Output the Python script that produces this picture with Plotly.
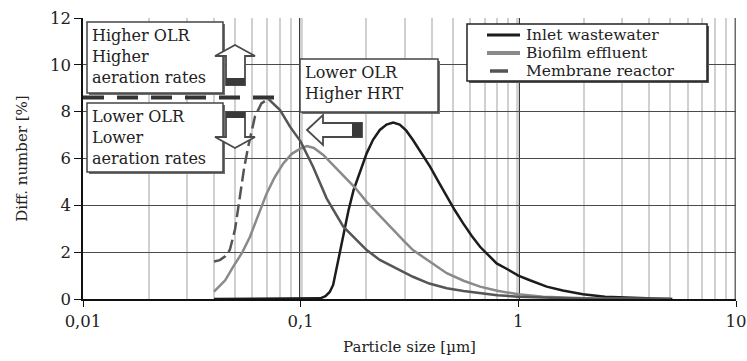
import plotly.graph_objects as go

# ---- data ----
inlet_x = [0.04, 0.06, 0.08, 0.1, 0.115, 0.123, 0.13, 0.136, 0.141, 0.149, 0.157, 0.166, 0.175, 0.188, 0.201,
           0.215, 0.231, 0.248, 0.266, 0.285, 0.305, 0.328, 0.36, 0.393, 0.43, 0.469, 0.51, 0.558, 0.61, 0.667,
           0.73, 0.795, 0.9, 1.0, 1.13, 1.35, 1.6, 1.98, 2.5, 3.26, 4.2, 5.1]
inlet_y = [0, 0, 0, 0, 0, 0.03, 0.12, 0.3, 0.6, 1.7, 2.8, 3.8, 4.65, 5.5, 6.22,
           6.8, 7.22, 7.45, 7.53, 7.45, 7.2, 6.79, 6.2, 5.65, 5.0, 4.37, 3.8, 3.23, 2.7, 2.23,
           1.85, 1.52, 1.25, 1.0, 0.8, 0.53, 0.36, 0.2, 0.1, 0.05, 0.02, 0]

bio_x = [0.04, 0.045, 0.049, 0.054, 0.0585, 0.064, 0.0698, 0.076, 0.0832, 0.091, 0.1, 0.107, 0.115, 0.127,
         0.14, 0.157, 0.178, 0.201, 0.231, 0.265, 0.3, 0.328, 0.39, 0.469, 0.56, 0.667, 0.8, 1.0, 1.3, 1.7,
         2.2, 3.0, 4.0, 5.0]
bio_y = [0.31, 0.8, 1.38, 2.0, 2.66, 3.6, 4.51, 5.2, 5.79, 6.2, 6.43, 6.53, 6.45, 6.15,
         5.75, 5.29, 4.75, 4.15, 3.55, 2.95, 2.45, 2.09, 1.6, 1.1, 0.78, 0.53, 0.35, 0.2, 0.1, 0.05,
         0.02, 0.01, 0, 0]

mem_x = [0.04, 0.0425, 0.045, 0.0473, 0.05, 0.0526, 0.055, 0.0574, 0.0617, 0.066, 0.071, 0.0804, 0.0893,
         0.1, 0.114, 0.1316, 0.157, 0.201, 0.231, 0.286, 0.328, 0.39, 0.469, 0.56, 0.667, 0.8, 1.0, 1.3,
         1.7, 2.5, 3.5, 5.0]
mem_y = [1.6, 1.66, 1.82, 2.1, 3.0, 4.5, 5.6, 6.5, 7.8, 8.35, 8.55, 8.07, 7.36,
         6.72, 5.65, 4.3, 3.09, 2.09, 1.67, 1.24, 0.95, 0.66, 0.46, 0.34, 0.24, 0.16, 0.1, 0.05,
         0.03, 0.01, 0, 0]

series_names = ["Inlet wastewater", "Biofilm effluent", "Membrane reactor"]
x_tickvals = [0.01, 0.1, 1, 10]
x_ticktext = ["0,01", "0,1", "1", "10"]

FONT = "DejaVu Serif"
W, H = 747, 361
ML, MR, MT, MB = 83, 11, 18, 62
PW, PH = W - ML - MR, H - MT - MB

C_IN, C_BIO, C_MEM = "#1c1c1c", "#8a8a8a", "#555555"
MEM_DASH = "13px,5px"


def px(xp):
    return (xp - ML) / PW


def py(yp):
    return (H - MB - yp) / PH


fig = go.Figure()

# reference level line at membrane reactor peak
peak_i = mem_y.index(max(mem_y))
fig.add_trace(go.Scatter(x=[x_tickvals[0], mem_x[peak_i] * 1.09], y=[max(mem_y) + 0.05] * 2,
                         mode="lines", line=dict(color="#333333", width=4, dash="21px,13px"),
                         showlegend=False, hoverinfo="skip"))

fig.add_trace(go.Scatter(x=inlet_x, y=inlet_y, mode="lines", name=series_names[0],
                         line=dict(color=C_IN, width=2.5)))
fig.add_trace(go.Scatter(x=bio_x, y=bio_y, mode="lines", name=series_names[1],
                         line=dict(color=C_BIO, width=2.5)))
fig.add_trace(go.Scatter(x=mem_x[:peak_i + 1], y=mem_y[:peak_i + 1], mode="lines", name=series_names[2],
                         legendgroup="mem", line=dict(color=C_MEM, width=2.5, dash=MEM_DASH)))
fig.add_trace(go.Scatter(x=mem_x[peak_i:], y=mem_y[peak_i:], mode="lines", name=series_names[2],
                         legendgroup="mem", line=dict(color=C_MEM, width=2.5)))

shapes = []
# heavy decade lines
for xv, col in [(0.1, "#111111"), (1, "#111111"), (10, "#6a6a6a")]:
    shapes.append(dict(type="line", xref="x", yref="paper", x0=xv, x1=xv, y0=0, y1=1,
                       line=dict(color=col, width=3), layer="below"))


def path(pts):
    return "M " + " L ".join(f"{px(a):.5f},{py(b):.5f}" for a, b in pts) + " Z"


def rect(x0, y0, x1, y1, fill, line=None):
    return dict(type="rect", xref="paper", yref="paper", x0=px(x0), x1=px(x1), y0=py(y1), y1=py(y0),
                line=line or dict(width=0), fillcolor=fill, layer="above")


annotations = []
TXT = dict(xref="paper", yref="paper", showarrow=False)

# text boxes with shadows
boxes = [
    ((87, 22, 223, 93), "Higher OLR<br>Higher<br>aeration rates"),
    ((87, 103, 223, 172), "Lower OLR<br>Lower<br>aeration rates"),
    ((300, 59, 438, 112), "Lower OLR<br>Higher HRT"),
]
for (x0, y0, x1, y1), txt in boxes:
    shapes.append(rect(x0 + 2, y0 + 2, x1 + 2, y1 + 2, "#6f6f6f"))
    shapes.append(rect(x0, y0, x1, y1, "white", dict(color="#444444", width=1.5)))
    annotations.append(dict(x=px(x0 + 3), y=py(y0 + 2), text=txt, xanchor="left", yanchor="top",
                            align="left", font=dict(family=FONT, size=16, color="#222222"), **TXT))

# legend panel drawn as a box with line samples and labels
LX0, LY0, LX1, LY1 = 467, 24, 707, 81
shapes.append(rect(LX0 + 2, LY0 + 2, LX1 + 2, LY1 + 2, "#555555"))
shapes.append(rect(LX0, LY0, LX1, LY1, "white", dict(color="#222222", width=1.5)))
row_y = [35, 53, 71]
leg_styles = [dict(color=C_IN, width=3), dict(color=C_BIO, width=4), dict(color=C_MEM, width=3.5)]
leg_span = [(487, 520), (487, 520), (490, 508)]
for name, yy, st, (a, b) in zip(series_names, row_y, leg_styles, leg_span):
    shapes.append(dict(type="line", xref="paper", yref="paper", x0=px(a), x1=px(b), y0=py(yy), y1=py(yy),
                       line=st, layer="above"))
    annotations.append(dict(x=px(524), y=py(yy), text=name, xanchor="left", yanchor="middle",
                            font=dict(family=FONT, size=15.5, color="#222222"), **TXT))

# arrows (drawn on top of the boxes)
ARROW = dict(color="#4a4a4a", width=1.8)
shapes.append(dict(type="path", xref="paper", yref="paper",
                   path=path([(226, 85), (226, 56), (215, 56), (235, 45), (255, 56), (245, 56), (245, 85)]),
                   line=ARROW, fillcolor="white", layer="above"))
shapes.append(rect(226, 78, 245, 85, "#3a3a3a"))
shapes.append(dict(type="path", xref="paper", yref="paper",
                   path=path([(226, 112), (226, 137), (215, 137), (235, 148), (255, 137), (245, 137), (245, 112)]),
                   line=ARROW, fillcolor="white", layer="above"))
shapes.append(rect(226, 112, 245, 118, "#3a3a3a"))
shapes.append(dict(type="path", xref="paper", yref="paper",
                   path=path([(307, 130), (323, 115), (323, 123), (362, 123), (362, 137), (323, 137), (323, 145)]),
                   line=ARROW, fillcolor="white", layer="above"))
shapes.append(rect(352, 123, 362, 137, "#3a3a3a"))

fig.update_layout(
    width=W, height=H, margin=dict(l=ML, r=MR, t=MT, b=MB, autoexpand=False),
    paper_bgcolor="white", plot_bgcolor="white", showlegend=False,
    font=dict(family=FONT, size=15, color="#222222"),
    shapes=shapes, annotations=annotations,
    xaxis=dict(type="log", range=[-2, 1], tickvals=x_tickvals, ticktext=x_ticktext, automargin=False,
               showgrid=False, showline=True, linecolor="#111111", linewidth=1.5,
               ticks="outside", ticklen=6, tickcolor="#111111", zeroline=False,
               minor=dict(dtick="D1", showgrid=True, gridcolor="#d0d0d0", gridwidth=1.5, ticks=""),
               title=dict(text="Particle size [µm]", font=dict(family=FONT, size=15), standoff=12),
               tickfont=dict(family=FONT, size=16.5)),
    yaxis=dict(range=[0, 12], dtick=2, showgrid=True, gridcolor="#4a4a4a", gridwidth=1, automargin=False,
               showline=True, linecolor="#111111", linewidth=1.5, zeroline=False,
               ticks="outside", ticklen=7, tickcolor="#111111",
               title=dict(text="Diff. number [%]", font=dict(family=FONT, size=15), standoff=19),
               tickfont=dict(family=FONT, size=16.5)),
)

fig.write_html("out.html", config={"displayModeBar": False},
               post_script="document.body.style.margin='0';")
